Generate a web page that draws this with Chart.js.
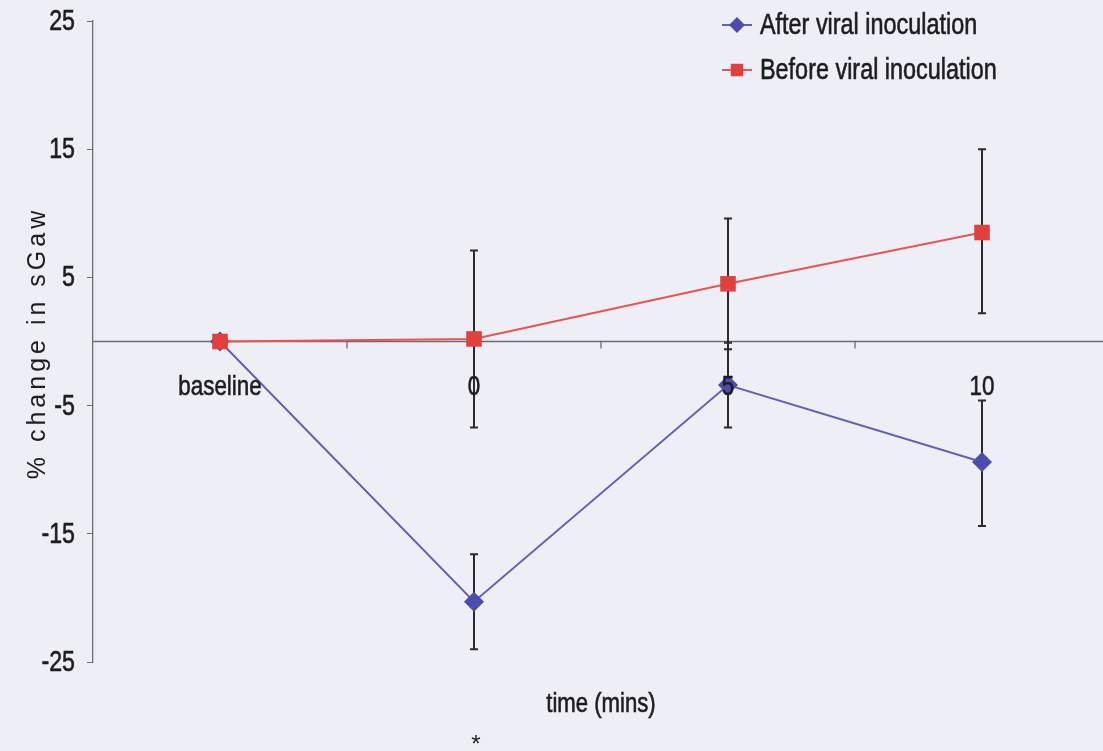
<!DOCTYPE html>
<html>
<head>
<meta charset="utf-8">
<script src="https://cdn.jsdelivr.net/npm/chart.js@4.4.1/dist/chart.umd.min.js"></script>
<style>
  html, body { margin: 0; padding: 0; overflow: hidden; background: #eeeef7; }
  #wrap { width: 1110px; height: 751px; }
</style>
</head>
<body>
<div id="wrap"><canvas id="chart" width="1110" height="751"></canvas></div>
<script>
// chart data
const categories = ['baseline', '0', '5', '10'];
const yTicks = [-25, -15, -5, 5, 15, 25];

const afterValues = [0, -20.3, -3.4, -9.4];
const afterLow = [null, -24.0, -6.7, -14.4];
const afterHigh = [null, -16.6, -0.1, -4.6];

const beforeValues = [0, 0.2, 4.5, 8.5];
const beforeLow = [null, -6.7, -0.6, 2.2];
const beforeHigh = [null, 7.1, 9.6, 15.0];

const FONT = "'Liberation Sans', Arial, sans-serif";
const TEXT = '#1e1c1e';

// condensed text: the original uses a narrow face, so squeeze horizontally
function narrowText(ctx, str, x, y, size, align, squeeze) {
  ctx.save();
  ctx.font = size + 'px ' + FONT;
  ctx.textBaseline = 'middle';
  ctx.textAlign = align;
  ctx.translate(x, y);
  ctx.scale(squeeze || 0.8, 1);
  ctx.fillText(str, 0, 0);
  // a thin stroke to get the heavier look of the original print
  ctx.strokeStyle = ctx.fillStyle;
  ctx.lineWidth = 0.6;
  ctx.strokeText(str, 0, 0);
  ctx.restore();
}

// draws zero line, error bars, labels, legend and titles
const overlay = {
  id: 'overlay',
  beforeDatasetsDraw(chart) {
    const { ctx, chartArea } = chart;
    const x = chart.scales.x, y = chart.scales.y;
    const y0 = y.getPixelForValue(0);
    ctx.save();
    ctx.strokeStyle = '#6b6b70';
    ctx.lineWidth = 1.3;
    ctx.beginPath();
    ctx.moveTo(chartArea.left, y0);
    ctx.lineTo(chartArea.right, y0);
    ctx.stroke();
    // tick marks between the categories
    for (let i = 1; i < categories.length; i++) {
      const px = (x.getPixelForValue(i - 1) + x.getPixelForValue(i)) / 2;
      ctx.beginPath();
      ctx.moveTo(px, y0);
      ctx.lineTo(px, y0 + 7);
      ctx.stroke();
    }
    // error bars
    ctx.strokeStyle = '#2e2a2c';
    ctx.lineWidth = 2;
    chart.data.datasets.forEach(ds => {
      ds.errLow.forEach((lo, i) => {
        const hi = ds.errHigh[i];
        if (lo === null || hi === null) return;
        const px = x.getPixelForValue(i);
        const pLo = y.getPixelForValue(lo), pHi = y.getPixelForValue(hi);
        ctx.beginPath();
        ctx.moveTo(px, pLo); ctx.lineTo(px, pHi);
        ctx.moveTo(px - 4, pLo); ctx.lineTo(px + 4, pLo);
        ctx.moveTo(px - 4, pHi); ctx.lineTo(px + 4, pHi);
        ctx.stroke();
      });
    });
    ctx.restore();
  },
  afterDatasetsDraw(chart) {
    const { ctx } = chart;
    const x = chart.scales.x, y = chart.scales.y;
    const y0 = y.getPixelForValue(0);
    ctx.save();
    ctx.fillStyle = TEXT;

    // y tick labels
    yTicks.forEach(v => {
      narrowText(ctx, String(v), 75, y.getPixelForValue(v) + 1, 29, 'right', 0.8);
    });
    // category labels sit under the zero line
    categories.forEach((c, i) => {
      narrowText(ctx, c, x.getPixelForValue(i), y0 + 46, 28, 'center', 0.8);
    });

    // axis titles
    narrowText(ctx, 'time (mins)', 601, 705, 27, 'center', 0.82);
    ctx.font = '24px ' + FONT;
    ctx.textAlign = 'center';
    ctx.textBaseline = 'middle';
    ctx.fillText('*', 476, 745);

    ctx.save();
    ctx.translate(38, 343);
    ctx.rotate(-Math.PI / 2);
    ctx.font = '25px ' + FONT;
    ctx.letterSpacing = '4px';
    ctx.fillText('% change in sGaw', 0, 0);
    ctx.restore();

    // legend
    const items = [
      { label: 'After viral inoculation', ds: chart.data.datasets[0], y: 25 },
      { label: 'Before viral inoculation', ds: chart.data.datasets[1], y: 70 }
    ];
    items.forEach(it => {
      ctx.strokeStyle = it.ds.borderColor;
      ctx.lineWidth = 2;
      ctx.beginPath();
      ctx.moveTo(722, it.y); ctx.lineTo(752, it.y);
      ctx.stroke();
      ctx.fillStyle = it.ds.pointBackgroundColor;
      Chart.helpers.drawPoint(ctx, {
        pointStyle: it.ds.pointStyle,
        radius: it.ds.pointRadius * 0.8,
        rotation: 0,
        borderWidth: 0
      }, 737, it.y);
      ctx.fillStyle = TEXT;
      narrowText(ctx, it.label, 760, it.y + 1, 30, 'left', 0.78);
    });
    ctx.restore();
  }
};

new Chart(document.getElementById('chart'), {
  type: 'line',
  data: {
    labels: categories,
    datasets: [
      {
        label: 'After viral inoculation',
        data: afterValues,
        errLow: afterLow,
        errHigh: afterHigh,
        borderColor: '#5f60b6',
        borderWidth: 2,
        pointStyle: 'rectRot',
        pointRadius: 10,
        pointBackgroundColor: '#4b4cab',
        pointBorderWidth: 0,
        order: 2
      },
      {
        label: 'Before viral inoculation',
        data: beforeValues,
        errLow: beforeLow,
        errHigh: beforeHigh,
        borderColor: '#e8554f',
        borderWidth: 2,
        pointStyle: 'rect',
        pointRadius: 11,
        pointBackgroundColor: '#e2403c',
        pointBorderWidth: 0,
        order: 1
      }
    ]
  },
  options: {
    responsive: false,
    animation: false,
    layout: { autoPadding: false, padding: { top: 21, right: 1, bottom: 89, left: 0 } },
    plugins: { legend: { display: false }, tooltip: { enabled: false } },
    scales: {
      x: { type: 'category', display: false, offset: true },
      y: {
        min: -25,
        max: 25,
        afterBuildTicks(scale) { scale.ticks = yTicks.map(v => ({ value: v })); },
        afterFit(scale) { scale.width = 93; },
        grid: { drawOnChartArea: false, drawTicks: true, tickLength: 6, color: '#6b6b70' },
        border: { display: true, color: '#6b6b70', width: 1.3 },
        ticks: { padding: 12, color: 'rgba(0,0,0,0)', font: { family: FONT, size: 10 } }
      }
    }
  },
  plugins: [overlay]
});
</script>
</body>
</html>
